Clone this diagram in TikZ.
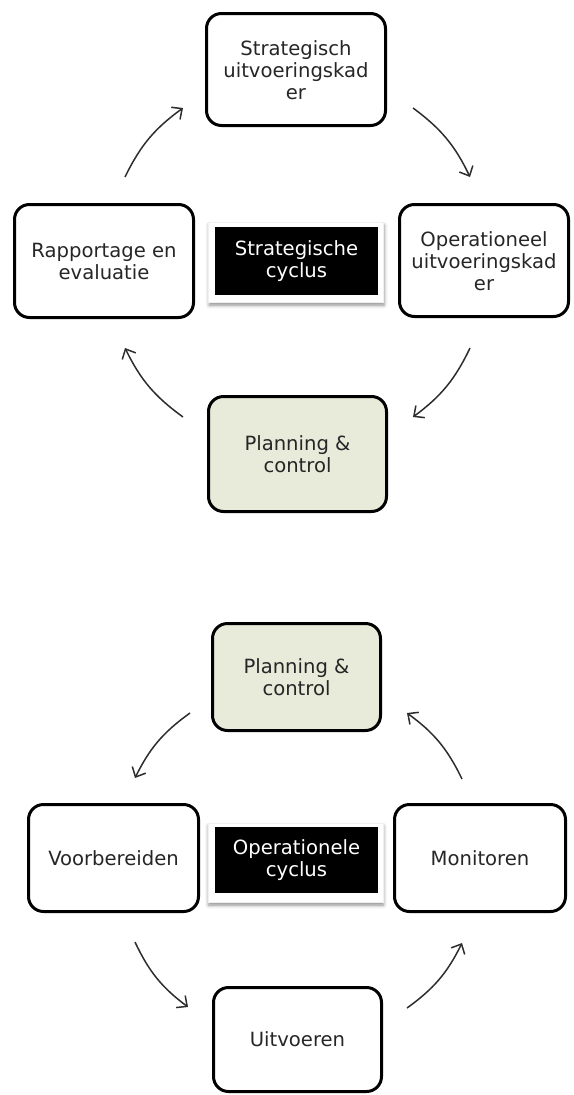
\documentclass[tikz,border=0pt]{standalone}
\usepackage{fontspec}
\setmainfont{DejaVu Sans}
\usetikzlibrary{arrows.meta,shadows.blur}
\definecolor{pcfill}{RGB}{232,234,218}
\definecolor{txt}{RGB}{38,38,38}
\definecolor{arrowgray}{RGB}{45,45,45}
\tikzset{
  stage/.style={draw=black, line width=3pt, rounded corners=15pt, fill=white,
    align=center, inner sep=0pt, text=txt,
    font=\fontsize{19.6}{22}\selectfont},
  pcstage/.style={stage, fill=pcfill},
  cyclelabel/.style={fill=black, text=white, align=center, inner sep=0pt,
    font=\fontsize{19.6}{22}\selectfont},
  labelframe/.style={fill=white, draw=black!6, line width=0.6pt,
    blur shadow={shadow xshift=0.5pt, shadow yshift=-3pt,
      shadow blur radius=3.5pt, shadow opacity=45}},
  flow/.style={draw=arrowgray, line width=1.5pt,
    -{Straight Barb[length=8pt,width=15pt]}},
}
\begin{document}
\begin{tikzpicture}[x=1pt,y=1pt]
\useasboundingbox (0,0) rectangle (573,-1095);

% ---------- strategic cycle ----------
\node[stage, minimum width=179pt, minimum height=112pt] (strat) at (296,-69.5)
  {\strut Strategisch\\uitvoeringskad\\er};
\node[stage, minimum width=179pt, minimum height=113pt] (rapp) at (104,-261)
  {Rapportage en\\evaluatie};
\node[stage, minimum width=169pt, minimum height=112pt] (oper) at (484,-260.5)
  {\strut Operationeel\\uitvoeringskad\\er};
\node[pcstage, minimum width=178pt, minimum height=115pt] (plan1) at (297.5,-454)
  {Planning \&\\control};

\node[labelframe, minimum width=175pt, minimum height=80pt] (frame1) at (296,-262) {};
\node[cyclelabel, minimum width=163pt, minimum height=68pt] (lab1) at (296.5,-261)
  {Strategische\\cyclus};

\coordinate (s1a) at (125,-177);  \coordinate (s1b) at (183,-108);
\coordinate (s2a) at (413,-108);  \coordinate (s2b) at (470,-177);
\coordinate (s3a) at (470,-348);  \coordinate (s3b) at (413,-417);
\coordinate (s4a) at (183,-417);  \coordinate (s4b) at (125,-348);
\draw[flow] (s1a) to[bend left=14] (s1b);
\draw[flow] (s2a) to[bend left=14] (s2b);
\draw[flow] (s3a) to[bend left=14] (s3b);
\draw[flow] (s4a) to[bend left=14] (s4b);

% ---------- operational cycle ----------
\node[pcstage, minimum width=168pt, minimum height=107pt] (plan2) at (296.5,-677)
  {Planning \&\\control};
\node[stage, minimum width=170pt, minimum height=107pt] (voor) at (113.5,-858)
  {Voorbereiden};
\node[stage, minimum width=171pt, minimum height=107pt] (mon) at (480,-858)
  {Monitoren};
\node[stage, minimum width=168pt, minimum height=104pt] (uitv) at (297.5,-1039.5)
  {Uitvoeren};

\node[labelframe, minimum width=175pt, minimum height=79pt] (frame2) at (295.5,-862.5) {};
\node[cyclelabel, minimum width=163pt, minimum height=66pt] (lab2) at (296.5,-860)
  {Operationele\\cyclus};

\coordinate (o1a) at (190,-713);  \coordinate (o1b) at (135,-778);
\coordinate (o2a) at (135,-942);  \coordinate (o2b) at (188,-1007);
\coordinate (o3a) at (407,-1008); \coordinate (o3b) at (462,-943);
\coordinate (o4a) at (462,-779);  \coordinate (o4b) at (407,-713);
\draw[flow] (o1a) to[bend right=14] (o1b);
\draw[flow] (o2a) to[bend right=14] (o2b);
\draw[flow] (o3a) to[bend right=14] (o3b);
\draw[flow] (o4a) to[bend right=14] (o4b);
\end{tikzpicture}
\end{document}
